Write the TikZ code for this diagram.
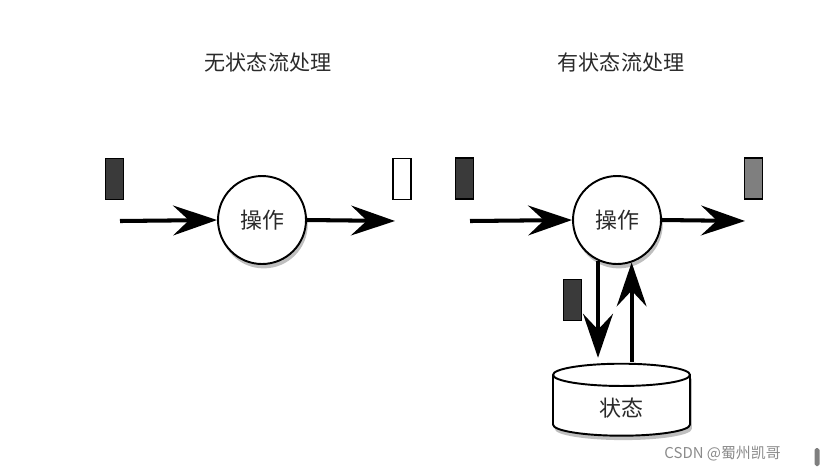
\documentclass[tikz,border=0pt]{standalone}
\usepackage{fontspec}
\usepackage{xcolor}
\usepackage{tikz}
\usetikzlibrary{positioning, arrows.meta, shapes.geometric, calc, shadows}
\newfontfamily\cjk{Noto Sans CJK SC}
\definecolor{evdark}{HTML}{3A3A3A}
\definecolor{evgray}{HTML}{7F7F7F}
\definecolor{wmgray}{HTML}{8A8A8A}
\definecolor{txtdark}{HTML}{2A2A2A}

\begin{document}
\begin{tikzpicture}[
  x=0.02cm, y=-0.02cm,
  opnode/.style={
    circle, draw=black, line width=1.1pt, fill=white,
    minimum size=1.76cm, inner sep=0pt, text=txtdark,
    font=\cjk\fontsize{12.5}{14}\selectfont,
    drop shadow={shadow xshift=1pt, shadow yshift=-2.5pt, opacity=0.5}
  },
  evbox/.style={
    rectangle, draw=black, line width=0.8pt,
    minimum width=0.36cm, minimum height=0.82cm, inner sep=0pt
  },
  store/.style={
    cylinder, shape border rotate=90, aspect=0.4,
    draw=black, line width=1.1pt, fill=white, text=txtdark,
    minimum width=2.74cm, minimum height=1.44cm,
    font=\cjk\fontsize{12.5}{14}\selectfont,
    drop shadow={shadow xshift=1pt, shadow yshift=-2.5pt, opacity=0.5}
  },
  ttl/.style={font=\cjk\fontsize{12}{14}\selectfont, text=txtdark},
  arr/.style={-{Stealth[length=25pt, width=17pt, inset=9pt]}, line width=2.3pt},
]
\useasboundingbox (0,0) rectangle (828,471);

% Titel
\node[ttl] (tl) at (268,62) {无状态流处理};
\node[ttl] (tr) at (621,62) {有状态流处理};

% Links: ohne Zustand
\node[opnode] (opl) at (262,220) {操作};
\coordinate (inl) at (120,221);
\coordinate (outl) at (395,221);
\node[evbox, fill=evdark] (evl1) at (114.5,179) {};
\node[evbox, fill=white] (evl2) at (402,179) {};
\draw[arr] (inl) -- (opl.west);
\draw[arr] (opl.east) -- (outl);

% Rechts: mit Zustand
\node[opnode] (opr) at (617,220) {操作};
\coordinate (inr) at (470,221);
\coordinate (outr) at (745,221);
\node[evbox, fill=evdark] (evr1) at (464.5,178.5) {};
\node[evbox, fill=evgray] (evr2) at (753.5,178.5) {};
\draw[arr] (inr) -- (opr.west);
\draw[arr] (opr.east) -- (outr);

\node[store] (st) at (621.5,408) {状态};
\node[evbox, fill=evdark] (evs) at (572.5,300) {};
\draw[arr] (opr.-115) -- ($(opr.-115 |- st.north)+(0,-5)$);
\draw[arr] ($(opr.-71 |- st.north)+(0,-1)$) -- (opr.-71);

% Wasserzeichen
\node[font=\cjk\fontsize{8.5}{9}\selectfont, text=wmgray, anchor=east] (wm) at (787,454) {CSDN @蜀州凯哥};
\node[rectangle, rounded corners=1pt, fill=evgray, minimum width=0.1cm, minimum height=0.36cm, inner sep=0pt] (bar) at (817,457) {};
\end{tikzpicture}
\end{document}
